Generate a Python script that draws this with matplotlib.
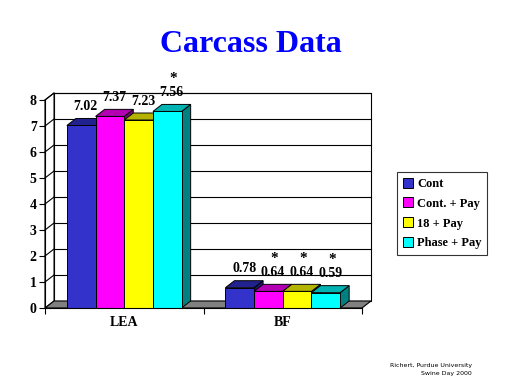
import matplotlib.pyplot as plt
from matplotlib.patches import Polygon, Rectangle

# data
groups = ['LEA', 'BF']
series = ['Cont', 'Cont. + Pay', '18 + Pay', 'Phase + Pay']
lea = [7.02, 7.37, 7.23, 7.56]
bf = [0.78, 0.64, 0.64, 0.59]
lea_star = [False, False, False, True]
bf_star = [False, True, True, True]

front_cols = ['#3333cc', '#ff00ff', '#ffff00', '#00ffff']
top_cols = ['#22228f', '#b300b3', '#b3b300', '#00b3b3']
side_cols = ['#1a1a70', '#800080', '#808000', '#008080']

DX, DY = 0.057, 0.27   # fake 3d depth in data units
W = 0.181

fig = plt.figure(figsize=(5.12, 3.84), dpi=100)
ax = fig.add_axes([45 / 512, 1 - 308 / 384, 317 / 512, 208 / 384])
ax.set_xlim(0, 2)
ax.set_ylim(0, 8)
serif = 'Liberation Serif'

# back wall, side wall, floor
ax.add_patch(Rectangle((DX, DY), 2, 8, facecolor='white', edgecolor='black', lw=0.8, clip_on=False, zorder=0))
ax.add_patch(Polygon([(0, 0), (DX, DY), (DX, 8 + DY), (0, 8)], closed=True,
                     facecolor='white', edgecolor='black', lw=0.8, clip_on=False, zorder=0))
for y in range(1, 9):
    ax.plot([DX, 2 + DX], [y + DY, y + DY], color='black', lw=0.8, clip_on=False, zorder=1)
    ax.plot([0, DX], [y, y + DY], color='black', lw=0.8, clip_on=False, zorder=1)
ax.add_patch(Polygon([(0, 0), (2, 0), (2 + DX, DY), (DX, DY)], closed=True,
                     facecolor='#808080', edgecolor='black', lw=0.8, clip_on=False, zorder=1))


def bar3d(x, v, i):
    ax.add_patch(Polygon([(x + W, 0), (x + W + DX, DY), (x + W + DX, v + DY), (x + W, v)],
                         closed=True, facecolor=side_cols[i], edgecolor='black', lw=0.7,
                         clip_on=False, zorder=2))
    ax.add_patch(Polygon([(x, v), (x + W, v), (x + W + DX, v + DY), (x + DX, v + DY)],
                         closed=True, facecolor=top_cols[i], edgecolor='black', lw=0.7,
                         clip_on=False, zorder=2))
    ax.add_patch(Rectangle((x, 0), W, v, facecolor=front_cols[i], edgecolor='black', lw=0.7,
                           clip_on=False, zorder=2))


for g, (vals, stars) in enumerate([(lea, lea_star), (bf, bf_star)]):
    start = g + 0.5 - 2 * W
    for i, v in enumerate(vals):
        x = start + i * W
        bar3d(x, v, i)
        ty = v + DY + 0.45
        ax.text(x + W / 2 + DX / 2, ty, f'{v:.2f}', ha='center', va='center',
                family=serif, fontweight='bold', fontsize=10, zorder=3, clip_on=False)
        if stars[i]:
            ax.text(x + W / 2 + DX / 2 + 0.01, ty + 0.3, '*', ha='center', va='bottom',
                    family=serif, fontweight='bold', fontsize=11, zorder=3, clip_on=False)

# axes styling
for s in ['top', 'right']:
    ax.spines[s].set_visible(False)
ax.spines['left'].set_linewidth(0.8)
ax.spines['bottom'].set_linewidth(0.8)
ax.set_yticks(range(0, 9))
ax.set_yticklabels([str(y) for y in range(0, 9)], family=serif, fontweight='bold', fontsize=10)
ax.set_xticks([0, 1, 2])
ax.set_xticklabels([])
ax.set_xticks([0.5, 1.5], minor=True)
ax.set_xticklabels(groups, minor=True, family=serif, fontweight='bold', fontsize=10)
ax.tick_params(axis='x', which='minor', length=0, pad=6)
ax.tick_params(axis='both', which='major', length=4, width=0.8, direction='out')
ax.tick_params(axis='y', pad=2)
ax.patch.set_visible(False)

# legend
handles = [Rectangle((0, 0), 1, 1, facecolor=c, edgecolor='black', lw=0.7) for c in front_cols]
leg = fig.legend(handles, series, loc='upper left', bbox_to_anchor=(397 / 512, 1 - 172 / 384),
                 prop={'family': serif, 'weight': 'bold', 'size': 9}, frameon=True,
                 fancybox=False, edgecolor='black', handlelength=0.85, handleheight=0.85,
                 handletextpad=0.3, borderpad=0.45, labelspacing=0.6, borderaxespad=0)
leg.get_frame().set_linewidth(0.8)

fig.text(251 / 512, 1 - 45 / 384, 'Carcass Data', ha='center', va='center', color='#0000ff',
         family=serif, fontweight='bold', fontsize=23)
fig.text(472 / 512, 1 - 365 / 384, 'Richert, Purdue University', ha='right', va='center',
         fontsize=4.5, family='DejaVu Sans')
fig.text(472 / 512, 1 - 374 / 384, 'Swine Day 2000', ha='right', va='center',
         fontsize=4.5, family='DejaVu Sans')

fig.savefig('out.png', dpi=100)
